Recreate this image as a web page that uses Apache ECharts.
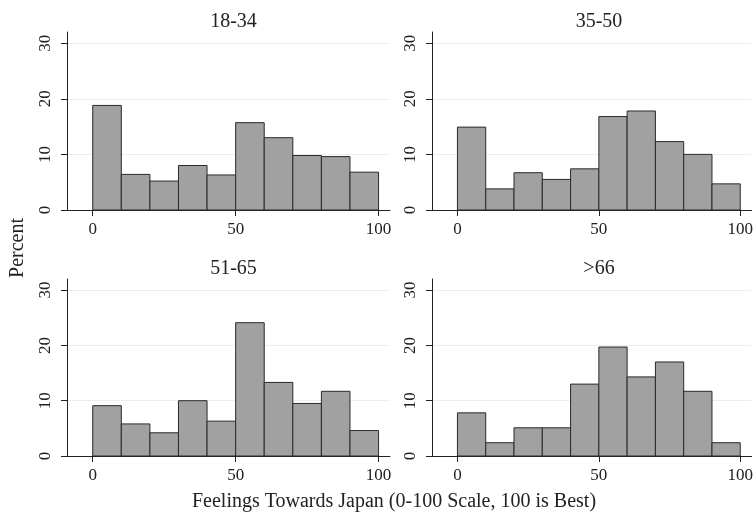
<!DOCTYPE html>
<html>
<head>
<meta charset="utf-8">
<script src="https://cdn.jsdelivr.net/npm/echarts@6/dist/echarts.min.js"></script>
<style>
  html, body { margin: 0; padding: 0; background: #fff; }
  #chart { width: 756px; height: 516px; }
</style>
</head>
<body>
<div id="chart"></div>
<script>
// bin edges (0-100 in steps of 10) and percent per bin for each age group
const binEdges = [0, 10, 20, 30, 40, 50, 60, 70, 80, 90, 100];
const panelTitles = ['18-34', '35-50', '51-65', '>66'];
const pct_18_34 = [18.8, 6.4, 5.2, 8.0, 6.3, 15.7, 13.0, 9.8, 9.6, 6.8];
const pct_35_50 = [14.9, 3.8, 6.7, 5.5, 7.4, 16.8, 17.8, 12.3, 10.0, 4.7];
const pct_51_65 = [9.1, 5.8, 4.2, 10.0, 6.3, 24.1, 13.3, 9.5, 11.7, 4.6];
const pct_66 = [7.8, 2.4, 5.1, 5.1, 13.0, 19.7, 14.3, 17.0, 11.7, 2.4];
const xTicks = [0, 50, 100];
const yTicks = [0, 10, 20, 30];

const allPct = [pct_18_34, pct_35_50, pct_51_65, pct_66];
const font = 'Liberation Serif';
const ink = '#222';

// panel boxes
const boxes = [
  { left: 67, top: 32, width: 323, height: 178 },
  { left: 432, top: 32, width: 324, height: 178 },
  { left: 67, top: 279, width: 323, height: 177 },
  { left: 432, top: 279, width: 324, height: 177 }
];

var chartDom = document.getElementById('chart');
var myChart = echarts.init(chartDom);

const grids = [], xAxes = [], yAxes = [], series = [], titles = [];

boxes.forEach((b, i) => {
  grids.push({ left: b.left, top: b.top, width: b.width, height: b.height });
  titles.push({
    text: panelTitles[i],
    left: b.left + b.width / 2,
    top: b.top - 25,
    textAlign: 'center',
    textStyle: { fontFamily: font, fontSize: 20, fontWeight: 'normal', color: ink }
  });
  xAxes.push({
    type: 'value',
    gridIndex: i,
    min: -9,
    max: 104,
    axisLine: { show: true, onZero: false, lineStyle: { color: ink, width: 1 } },
    axisTick: { show: true, length: 6, customValues: xTicks, lineStyle: { color: ink } },
    axisLabel: { customValues: xTicks, fontFamily: font, fontSize: 17, color: ink, margin: 11 },
    splitLine: { show: false }
  });
  yAxes.push({
    type: 'value',
    gridIndex: i,
    min: 0,
    max: 32,
    axisLine: { show: true, onZero: false, lineStyle: { color: ink, width: 1 } },
    axisTick: { show: true, length: 6, customValues: yTicks, lineStyle: { color: ink } },
    axisLabel: { customValues: yTicks, rotate: 90, fontFamily: font, fontSize: 17, color: ink, margin: 13 },
    splitLine: { show: true, lineStyle: { color: '#e8f0f2', width: 1 } }
  });
  const data = allPct[i].map((v, k) => [binEdges[k], binEdges[k + 1], v]);
  series.push({
    type: 'custom',
    xAxisIndex: i,
    yAxisIndex: i,
    data: data,
    renderItem: function (params, api) {
      const p0 = api.coord([api.value(0), api.value(2)]);
      const p1 = api.coord([api.value(1), 0]);
      return {
        type: 'rect',
        shape: { x: p0[0], y: p0[1], width: p1[0] - p0[0], height: p1[1] - p0[1] },
        style: { fill: '#a1a1a1', stroke: '#2a2a2a', lineWidth: 1 }
      };
    },
    encode: { x: [0, 1], y: 2 }
  });
});

const option = {
  backgroundColor: '#fff',
  animation: false,
  title: titles,
  grid: grids,
  xAxis: xAxes,
  yAxis: yAxes,
  series: series,
  graphic: [
    {
      type: 'text',
      x: 18,
      y: 248,
      rotation: Math.PI / 2,
      style: {
        text: 'Percent',
        font: '20px "Liberation Serif"',
        fill: ink,
        textAlign: 'center',
        textVerticalAlign: 'middle'
      }
    },
    {
      type: 'text',
      x: 394,
      y: 502,
      style: {
        text: 'Feelings Towards Japan (0-100 Scale, 100 is Best)',
        font: '20px "Liberation Serif"',
        fill: ink,
        textAlign: 'center',
        textVerticalAlign: 'middle'
      }
    }
  ]
};

myChart.setOption(option);
</script>
</body>
</html>
